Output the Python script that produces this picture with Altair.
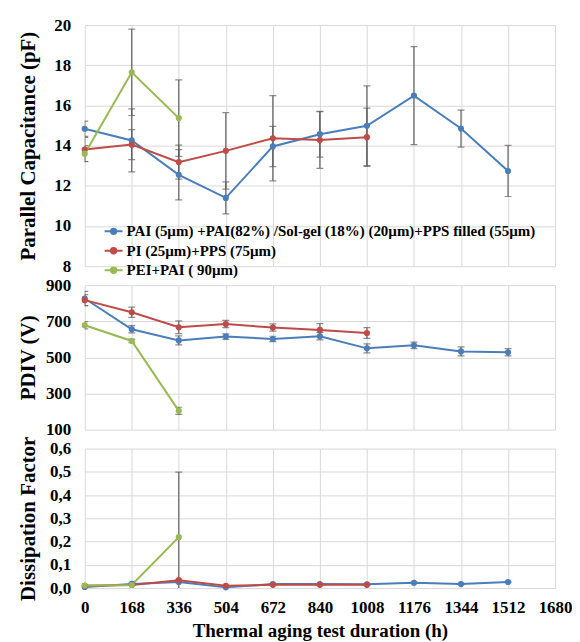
import altair as alt
import pandas as pd

hours = [0, 168, 336, 504, 672, 840, 1008, 1176, 1344, 1512]
x_ticks = [0, 168, 336, 504, 672, 840, 1008, 1176, 1344, 1512, 1680]

series_names = [
    "PAI (5µm) +PAI(82%) /Sol-gel (18%) (20µm)+PPS filled (55µm)",
    "PI (25µm)+PPS (75µm)",
    "PEI+PAI ( 90µm)",
]
colors = ["#4A7EBB", "#BE4B48", "#98B954"]

# Parallel capacitance (pF)
cap_blue = [14.84, 14.26, 12.55, 11.40, 13.96, 14.57, 14.99, 16.49, 14.85, 12.74]
cap_blue_err = [0.38, 1.57, 1.25, 0.80, 1.00, 1.14, 1.98, 2.44, 0.92, 1.27]
cap_red = [13.81, 14.05, 13.18, 13.74, 14.37, 14.28, 14.42]
cap_red_err = [0.60, 0.75, 0.85, 1.90, 2.12, 1.41, 1.45]
cap_green = [13.60, 17.65, 15.37]
cap_green_err = [0.40, 2.15, 1.90]

# PDIV (V)
pdiv_blue = [826, 656, 594, 615, 602, 617, 550, 567, 533, 528]
pdiv_blue_err = [40, 20, 25, 15, 15, 20, 25, 18, 25, 20]
pdiv_red = [817, 750, 667, 685, 665, 652, 635]
pdiv_red_err = [30, 28, 35, 20, 20, 35, 30]
pdiv_green = [678, 591, 204]
pdiv_green_err = [20, 10, 20]

# Dissipation factor
df_blue = [0.005, 0.018, 0.026, 0.003, 0.017, 0.017, 0.016, 0.023, 0.017, 0.026]
df_blue_err = [0.002, 0.002, 0.003, 0.002, 0.002, 0.002, 0.002, 0.002, 0.002, 0.002]
df_red = [0.010, 0.013, 0.034, 0.010, 0.014, 0.014, 0.014]
df_red_err = [0.002, 0.002, 0.004, 0.002, 0.002, 0.002, 0.002]
df_green = [0.011, 0.013, 0.219]
df_green_err = [0.002, 0.002, 0.28]

FONT = "Liberation Serif"


def make_df(vals_list, errs_list):
    rows = []
    for name, vals, errs in zip(series_names, vals_list, errs_list):
        for h, v, e in zip(hours, vals, errs):
            rows.append({"hours": h, "value": v, "lo": v - e, "hi": v + e, "series": name})
    return pd.DataFrame(rows)


legend_symbol = ("M-1,0L1,0"
                 "M0.3,0A0.3,0.3 0 1,1 -0.3,0A0.3,0.3 0 1,1 0.3,0"
                 "M0.15,0A0.15,0.15 0 1,1 -0.15,0A0.15,0.15 0 1,1 0.15,0")


def panel(data, y_domain, y_ticks, y_title, height, label_expr=None, show_x=False, legend=False):
    if show_x:
        x_axis = alt.Axis(values=x_ticks, title="Thermal aging test duration (h)", format="d",
                          labelOverlap=False, labelFlush=False, labelPadding=12, titlePadding=6,
                          titleFontSize=19, labelFontSize=17, grid=True)
    else:
        x_axis = alt.Axis(values=x_ticks, labels=False, title=None, grid=True)
    x = alt.X("hours:Q", scale=alt.Scale(domain=[0, 1680], nice=False, zero=False), axis=x_axis)
    y_axis_args = dict(values=y_ticks, title=y_title, titleX=-56, titleBaseline="middle",
                       labelPadding=14, labelOverlap=False, labelFlush=False)
    if label_expr:
        y_axis_args["labelExpr"] = label_expr
    y_axis = alt.Axis(**y_axis_args)
    y = alt.Y("value:Q", scale=alt.Scale(domain=y_domain, nice=False, zero=False), axis=y_axis)
    y_lo = alt.Y("lo:Q", scale=alt.Scale(domain=y_domain, nice=False, zero=False), axis=y_axis)
    y_hi = alt.Y("hi:Q", scale=alt.Scale(domain=y_domain, nice=False, zero=False), axis=y_axis)

    if legend:
        leg = alt.Legend(title=None, orient="none", legendX=19, legendY=197,
                         symbolType=legend_symbol, symbolSize=324, symbolStrokeWidth=2,
                         labelFont=FONT, labelFontSize=15, labelFontWeight="bold",
                         labelColor="black", labelLimit=1000, rowPadding=1.5,
                         labelOffset=3, padding=0)
    else:
        leg = None
    color = alt.Color("series:N", scale=alt.Scale(domain=series_names, range=colors),
                      sort=series_names, legend=leg)
    color_nl = alt.Color("series:N", scale=alt.Scale(domain=series_names, range=colors),
                         sort=series_names, legend=None)

    base = alt.Chart(data)
    rule = base.mark_rule(color="#5f5f5f", strokeWidth=1.2, clip=True).encode(
        x=x, y=y_lo, y2="hi:Q")
    tick_lo = base.mark_tick(color="#5f5f5f", orient="horizontal", size=7, thickness=1.2,
                             clip=True).encode(x=x, y=y_lo)
    tick_hi = base.mark_tick(color="#5f5f5f", orient="horizontal", size=7, thickness=1.2,
                             clip=True).encode(x=x, y=y_hi)
    line = base.mark_line(strokeWidth=2).encode(x=x, y=y, color=color, detail="series:N")
    pts = base.mark_point(filled=True, size=38, opacity=1).encode(x=x, y=y, color=color_nl)
    return alt.layer(rule, tick_lo, tick_hi, line, pts).properties(width=472, height=height)


top = panel(make_df([cap_blue, cap_red, cap_green], [cap_blue_err, cap_red_err, cap_green_err]),
            [8, 20], [8, 10, 12, 14, 16, 18, 20], "Parallel Capacitance (pF)", 242, legend=True)
mid = panel(make_df([pdiv_blue, pdiv_red, pdiv_green], [pdiv_blue_err, pdiv_red_err, pdiv_green_err]),
            [100, 900], [100, 300, 500, 700, 900], "PDIV (V)", 145)
bot = panel(make_df([df_blue, df_red, df_green], [df_blue_err, df_red_err, df_green_err]),
            [0, 0.6], [0, 0.1, 0.2, 0.3, 0.4, 0.5, 0.6], "Dissipation Factor", 140,
            label_expr="replace(format(datum.value, '.1f'), '.', ',')", show_x=True)

chart = alt.vconcat(top, mid, bot, spacing=19, bounds="flush").resolve_legend(
    color="independent"
).resolve_scale(color="independent").configure_view(stroke=None).configure_axis(
    labelFont=FONT, labelFontWeight="bold", labelFontSize=17, labelColor="black",
    titleFont=FONT, titleFontWeight="bold", titleFontSize=21, titleColor="black",
    gridColor="#d9d9d9", gridWidth=1, domain=False, ticks=False, tickSize=0,
).properties(padding={"left": 9, "top": 7, "right": 0, "bottom": 0}, background="white")

chart.save("out.html", embed_options={"renderer": "svg", "actions": False})
